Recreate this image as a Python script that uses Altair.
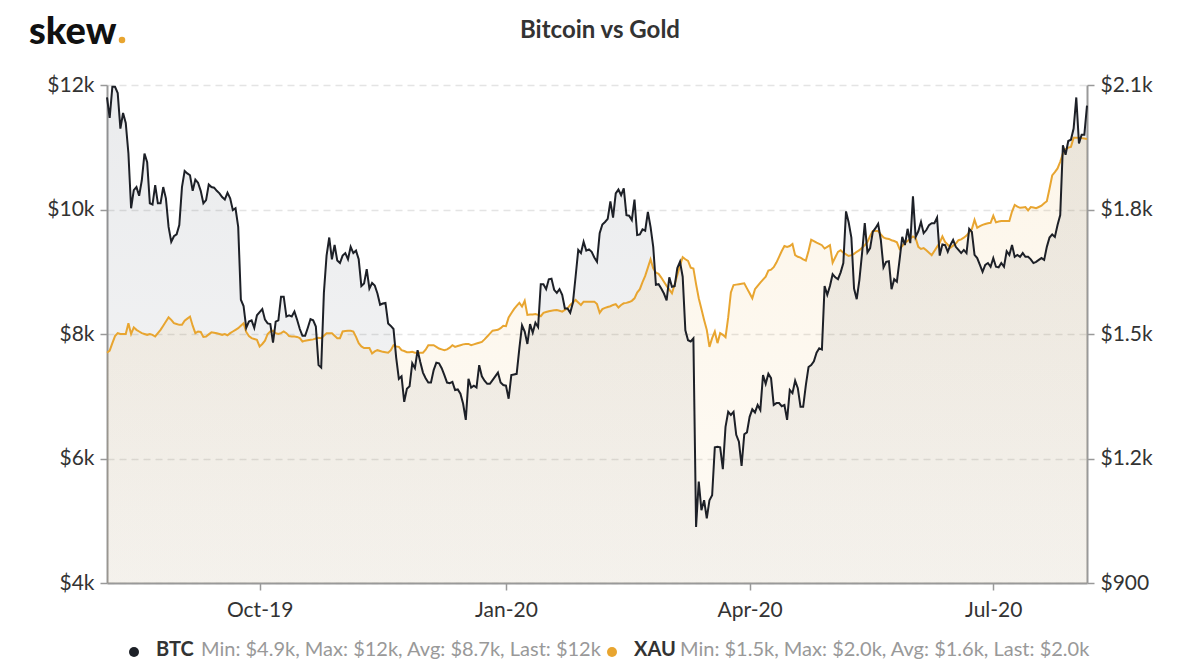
import altair as alt
import pandas as pd

START = "2019-08-05"

# BTC daily close, thousands of USD
btc_k = [
    11.80, 11.47, 11.97, 11.97, 11.87, 11.30, 11.55, 11.39, 10.90, 10.02,
    10.31, 10.36, 10.22, 10.47, 10.90, 10.76, 10.10, 10.08, 10.39, 10.10,
    10.10, 10.36, 10.18, 9.72, 9.48, 9.57, 9.60, 9.75, 10.36, 10.62,
    10.58, 10.55, 10.30, 10.48, 10.43, 10.30, 10.10, 10.15, 10.40, 10.36,
    10.35, 10.30, 10.26, 10.20, 10.16, 10.27, 10.18, 9.99, 10.02, 9.72,
    8.55, 8.45, 8.10, 8.20, 8.22, 8.10, 8.30, 8.35, 8.40, 8.23,
    8.17, 8.16, 7.86, 8.20, 8.22, 8.60, 8.60, 8.28, 8.30, 8.28,
    8.36, 8.23, 8.08, 7.97, 7.97, 8.10, 8.24, 8.22, 8.12, 7.50,
    7.46, 8.66, 9.26, 9.55, 9.20, 9.43, 9.18, 9.14, 9.26, 9.30,
    9.20, 9.40, 9.30, 9.34, 9.20, 8.77, 8.81, 9.04, 8.73, 8.82,
    8.78, 8.65, 8.47, 8.49, 8.50, 8.17, 8.13, 8.08, 7.62, 7.28,
    7.32, 6.91, 7.12, 7.16, 7.53, 7.45, 7.74, 7.55, 7.38, 7.29,
    7.22, 7.22, 7.42, 7.54, 7.53, 7.45, 7.34, 7.22, 7.21, 7.23,
    7.10, 7.11, 7.04, 6.88, 6.62, 7.28, 7.14, 7.17, 7.14, 7.50,
    7.32, 7.25, 7.20, 7.20, 7.26, 7.32, 7.38, 7.22, 7.18, 7.17,
    6.96, 7.34, 7.35, 7.36, 7.77, 8.14, 8.04, 7.84, 8.16, 8.02,
    8.18, 8.11, 8.80, 8.80, 8.72, 8.88, 8.89, 8.71, 8.66, 8.72,
    8.63, 8.41, 8.41, 8.34, 8.50, 8.92, 9.35, 9.30, 9.48, 9.34,
    9.36, 9.32, 9.23, 9.16, 9.62, 9.76, 9.80, 9.85, 10.13, 9.87,
    10.26, 10.32, 10.23, 10.34, 9.91, 9.90, 9.83, 10.16, 9.59, 9.60,
    9.68, 9.66, 9.96, 9.72, 9.40, 8.79, 8.80, 8.73, 8.65, 8.54,
    8.91, 8.76, 8.77, 9.06, 9.16, 8.92, 8.06, 7.90, 7.88, 7.93,
    4.90, 5.63, 5.17, 5.33, 5.04, 5.33, 5.41, 6.18, 6.19, 6.18,
    5.83, 6.51, 6.75, 6.70, 6.75, 6.38, 6.27, 5.88, 6.39, 6.42,
    6.67, 6.79, 6.74, 6.86, 6.78, 7.34, 7.20, 7.36, 7.29, 6.86,
    6.89, 6.89, 6.84, 6.86, 6.62, 7.10, 7.05, 7.25, 7.13, 6.83,
    6.83, 7.18, 7.47, 7.50, 7.56, 7.70, 7.77, 7.75, 8.77, 8.63,
    8.77, 8.96, 8.91, 8.88, 8.99, 9.14, 9.97, 9.79, 9.55, 8.73,
    8.56, 8.87, 9.30, 9.78, 9.31, 9.38, 9.64, 9.70, 9.77, 9.51,
    9.07, 9.16, 9.17, 8.72, 8.88, 8.84, 9.19, 9.56, 9.43, 9.69,
    9.46, 10.21, 9.56, 9.65, 9.80, 9.62, 9.67, 9.75, 9.78, 9.78,
    9.87, 9.26, 9.44, 9.43, 9.32, 9.43, 9.51, 9.40, 9.35, 9.30,
    9.35, 9.30, 9.69, 9.64, 9.27, 9.22, 9.11, 9.00, 9.11, 9.14,
    9.08, 9.22, 9.08, 9.07, 9.14, 9.08, 9.33, 9.27, 9.43, 9.24,
    9.27, 9.24, 9.30, 9.24, 9.24, 9.20, 9.14, 9.16, 9.19, 9.22,
    9.19, 9.40, 9.55, 9.60, 9.56, 9.75, 9.91, 11.03, 10.88, 11.10,
    11.12, 11.30, 11.80, 11.06, 11.20, 11.20, 11.67,
]

# Gold (XAU) daily, USD
xau = [
    1455, 1460, 1478, 1495, 1502, 1500, 1500, 1500, 1526, 1500,
    1516, 1510, 1506, 1502, 1500, 1498, 1500, 1498, 1494, 1502,
    1510, 1520, 1530, 1540, 1534, 1526, 1524, 1522, 1522, 1532,
    1537, 1542, 1520, 1502, 1506, 1505, 1493, 1494, 1499, 1504,
    1503, 1502, 1500, 1498, 1500, 1497, 1502, 1506, 1510, 1514,
    1520, 1526, 1505, 1495, 1490, 1488, 1486, 1470, 1476, 1484,
    1500, 1506, 1508, 1502, 1500, 1502, 1506, 1502, 1495, 1494,
    1494, 1493, 1490, 1482, 1484, 1485, 1486, 1487, 1489, 1491,
    1490, 1496, 1502, 1502, 1502, 1496, 1490, 1490, 1506, 1507,
    1508, 1508, 1506, 1493, 1478, 1470, 1466, 1466, 1466, 1453,
    1458, 1461, 1459, 1457, 1456, 1455, 1461, 1473, 1470, 1469,
    1461, 1459, 1456, 1456, 1457, 1455, 1455, 1455, 1455, 1462,
    1473, 1473, 1473, 1469, 1465, 1463, 1461, 1463, 1467, 1473,
    1469, 1471, 1473, 1475, 1476, 1476, 1473, 1475, 1477, 1479,
    1481, 1487, 1494, 1501, 1508, 1509, 1510, 1514, 1520, 1519,
    1540, 1550, 1560, 1568, 1575, 1566, 1580, 1546, 1547, 1547,
    1548, 1546, 1543, 1551, 1553, 1555, 1556, 1557, 1558, 1556,
    1554, 1558, 1562, 1570, 1576, 1582, 1576, 1570, 1578, 1578,
    1578, 1578, 1578, 1572, 1551, 1560, 1563, 1565, 1567, 1570,
    1572, 1564, 1570, 1574, 1575, 1577, 1580, 1586, 1600, 1608,
    1625, 1640, 1660, 1680, 1658, 1648, 1645, 1636, 1626, 1616,
    1607, 1598, 1620, 1642, 1665, 1685, 1680, 1676, 1660, 1658,
    1620, 1586, 1560, 1534, 1510, 1469, 1490, 1506, 1478, 1502,
    1498, 1492, 1540, 1600, 1618, 1619, 1620, 1621, 1622, 1610,
    1598, 1586, 1608, 1616, 1624, 1631, 1638, 1653, 1655, 1661,
    1672, 1686, 1700, 1712, 1710, 1712, 1717, 1690, 1686, 1684,
    1680, 1677, 1700, 1727, 1724, 1720, 1717, 1714, 1706, 1710,
    1714, 1672, 1685, 1698, 1702, 1696, 1692, 1688, 1690, 1693,
    1698, 1702, 1708, 1714, 1722, 1736, 1748, 1748, 1748, 1740,
    1733, 1730, 1729, 1726, 1724, 1721, 1705, 1712, 1720, 1724,
    1730, 1735, 1731, 1710, 1705, 1707, 1702, 1696, 1690, 1700,
    1710, 1720, 1735, 1722, 1715, 1708, 1713, 1718, 1726, 1728,
    1732, 1737, 1745, 1753, 1775, 1756, 1760, 1763, 1765, 1767,
    1768, 1785, 1769, 1771, 1772, 1772, 1772, 1772, 1795, 1811,
    1807, 1804, 1805, 1806, 1798, 1806, 1805, 1803, 1806, 1809,
    1815, 1820, 1850, 1882, 1890, 1899, 1915, 1935, 1945, 1949,
    1951, 1973, 1973, 1973, 1972, 1971, 1970,
]

btc_ticks = [4, 6, 8, 10, 12]
xau_ticks = [900, 1200, 1500, 1800, 2100]
quarter_ticks = ["2019-10-01", "2020-01-01", "2020-04-01", "2020-07-01"]
x_domain = ["2019-08-05", "2020-08-05"]

title_text = "Bitcoin vs Gold"
legend_btc = "Min: $4.9k, Max: $12k, Avg: $8.7k, Last: $12k"
legend_xau = "Min: $1.5k, Max: $2.0k, Avg: $1.6k, Last: $2.0k"

BTC_COLOR = "#1d2027"
XAU_COLOR = "#e8a530"
FONT = "Lato"


def ms(d):
    return int(pd.Timestamp(d, tz="UTC").value // 10**6)


btc_df = pd.DataFrame({
    "date": pd.date_range(START, periods=len(btc_k), freq="D").strftime("%Y-%m-%d"),
    "btc": btc_k,
})
xau_df = pd.DataFrame({
    "date": pd.date_range(START, periods=len(xau), freq="D").strftime("%Y-%m-%d"),
    "xau": xau,
})

W, H = 980, 498

x_scale = alt.Scale(type="utc", domain=[ms(d) for d in x_domain])
x_axis = alt.Axis(
    values=[ms(d) for d in quarter_ticks],
    labelExpr="utcFormat(datum.value, '%b-%y')",
    title=None, grid=False, orient="bottom",
    labelPadding=9, labelFlush=False, labelOverlap=False,
)

btc_scale = alt.Scale(domain=[4, 12], nice=False, zero=False)
xau_scale = alt.Scale(domain=[900, 2100], nice=False, zero=False)

btc_axis = alt.Axis(
    orient="left", values=btc_ticks, title=None,
    labelExpr="'$' + datum.value + 'k'",
    grid=True, gridColor="#e4e4e4", gridDash=[7, 5], gridWidth=1.5,
    labelPadding=6,
)
xau_axis = alt.Axis(
    orient="right", values=xau_ticks, title=None, grid=False,
    labelExpr="datum.value >= 1000 ? '$' + format(datum.value / 1000, '.1f') + 'k' : '$' + datum.value",
    labelPadding=6,
)

btc_grad = alt.Gradient(
    gradient="linear", x1=0, y1=0, x2=0, y2=1,
    stops=[alt.GradientStop(color="rgba(58,68,84,0.105)", offset=0),
           alt.GradientStop(color="rgba(58,68,84,0.05)", offset=1)],
)
xau_grad = alt.Gradient(
    gradient="linear", x1=0, y1=0, x2=0, y2=1,
    stops=[alt.GradientStop(color="rgba(232,165,48,0.10)", offset=0),
           alt.GradientStop(color="rgba(232,165,48,0.05)", offset=1)],
)

X = alt.X("date:T", scale=x_scale, axis=x_axis)

btc_area = alt.Chart(btc_df).mark_area(color=btc_grad).encode(
    x=X,
    y=alt.Y("btc:Q", scale=btc_scale, axis=btc_axis),
    y2=alt.datum(4),
)
xau_area = alt.Chart(xau_df).mark_area(color=xau_grad).encode(
    x=X,
    y=alt.Y("xau:Q", scale=xau_scale, axis=xau_axis),
    y2=alt.datum(900),
)
xau_line = alt.Chart(xau_df).mark_line(color=XAU_COLOR, strokeWidth=2).encode(
    x=X,
    y=alt.Y("xau:Q", scale=xau_scale, axis=None),
)
btc_line = alt.Chart(btc_df).mark_line(color=BTC_COLOR, strokeWidth=2).encode(
    x=X,
    y=alt.Y("btc:Q", scale=btc_scale, axis=None),
)


def label(text, x, y, size, color, weight="normal", align="left", baseline="alphabetic"):
    return alt.Chart(pd.DataFrame({"t": [text]})).mark_text(
        font=FONT, fontSize=size, color=color, fontWeight=weight,
        align=align, baseline=baseline,
    ).encode(text="t:N", x=alt.value(x), y=alt.value(y))


def dot(x, y, color, size):
    return alt.Chart(pd.DataFrame({"t": [0]})).mark_circle(
        color=color, size=size, opacity=1
    ).encode(x=alt.value(x), y=alt.value(y))


decor = [
    label("skew", -78, -41, 38, "#111111", weight=900),
    dot(15, -45, XAU_COLOR, 42),
    label(title_text, 493, -47, 24, "#333333", weight="bold", align="center"),
    dot(27, 567, "#1d2027", 100),
    label("BTC", 49, 571, 20, "#333333", weight="bold"),
    label(legend_btc, 94, 571, 20, "#999999"),
    dot(505, 567, XAU_COLOR, 100),
    label("XAU", 527, 571, 20, "#333333", weight="bold"),
    label(legend_xau, 573, 571, 20, "#999999"),
]

chart = alt.layer(
    btc_area, xau_area, xau_line, btc_line, *decor
).resolve_scale(
    y="independent"
).properties(
    width=W, height=H,
    autosize=alt.AutoSizeParams(type="none"),
    padding={"left": 99, "top": 77, "right": 105, "bottom": 77},
).configure_view(
    stroke=None
).configure_axis(
    labelFont=FONT, labelFontSize=21, labelColor="#333333",
    domainColor="#999999", domainWidth=2,
    tickColor="#999999", tickWidth=1.5, tickSize=7,
)

chart.save("out.html", embed_options={"renderer": "svg", "actions": False})
